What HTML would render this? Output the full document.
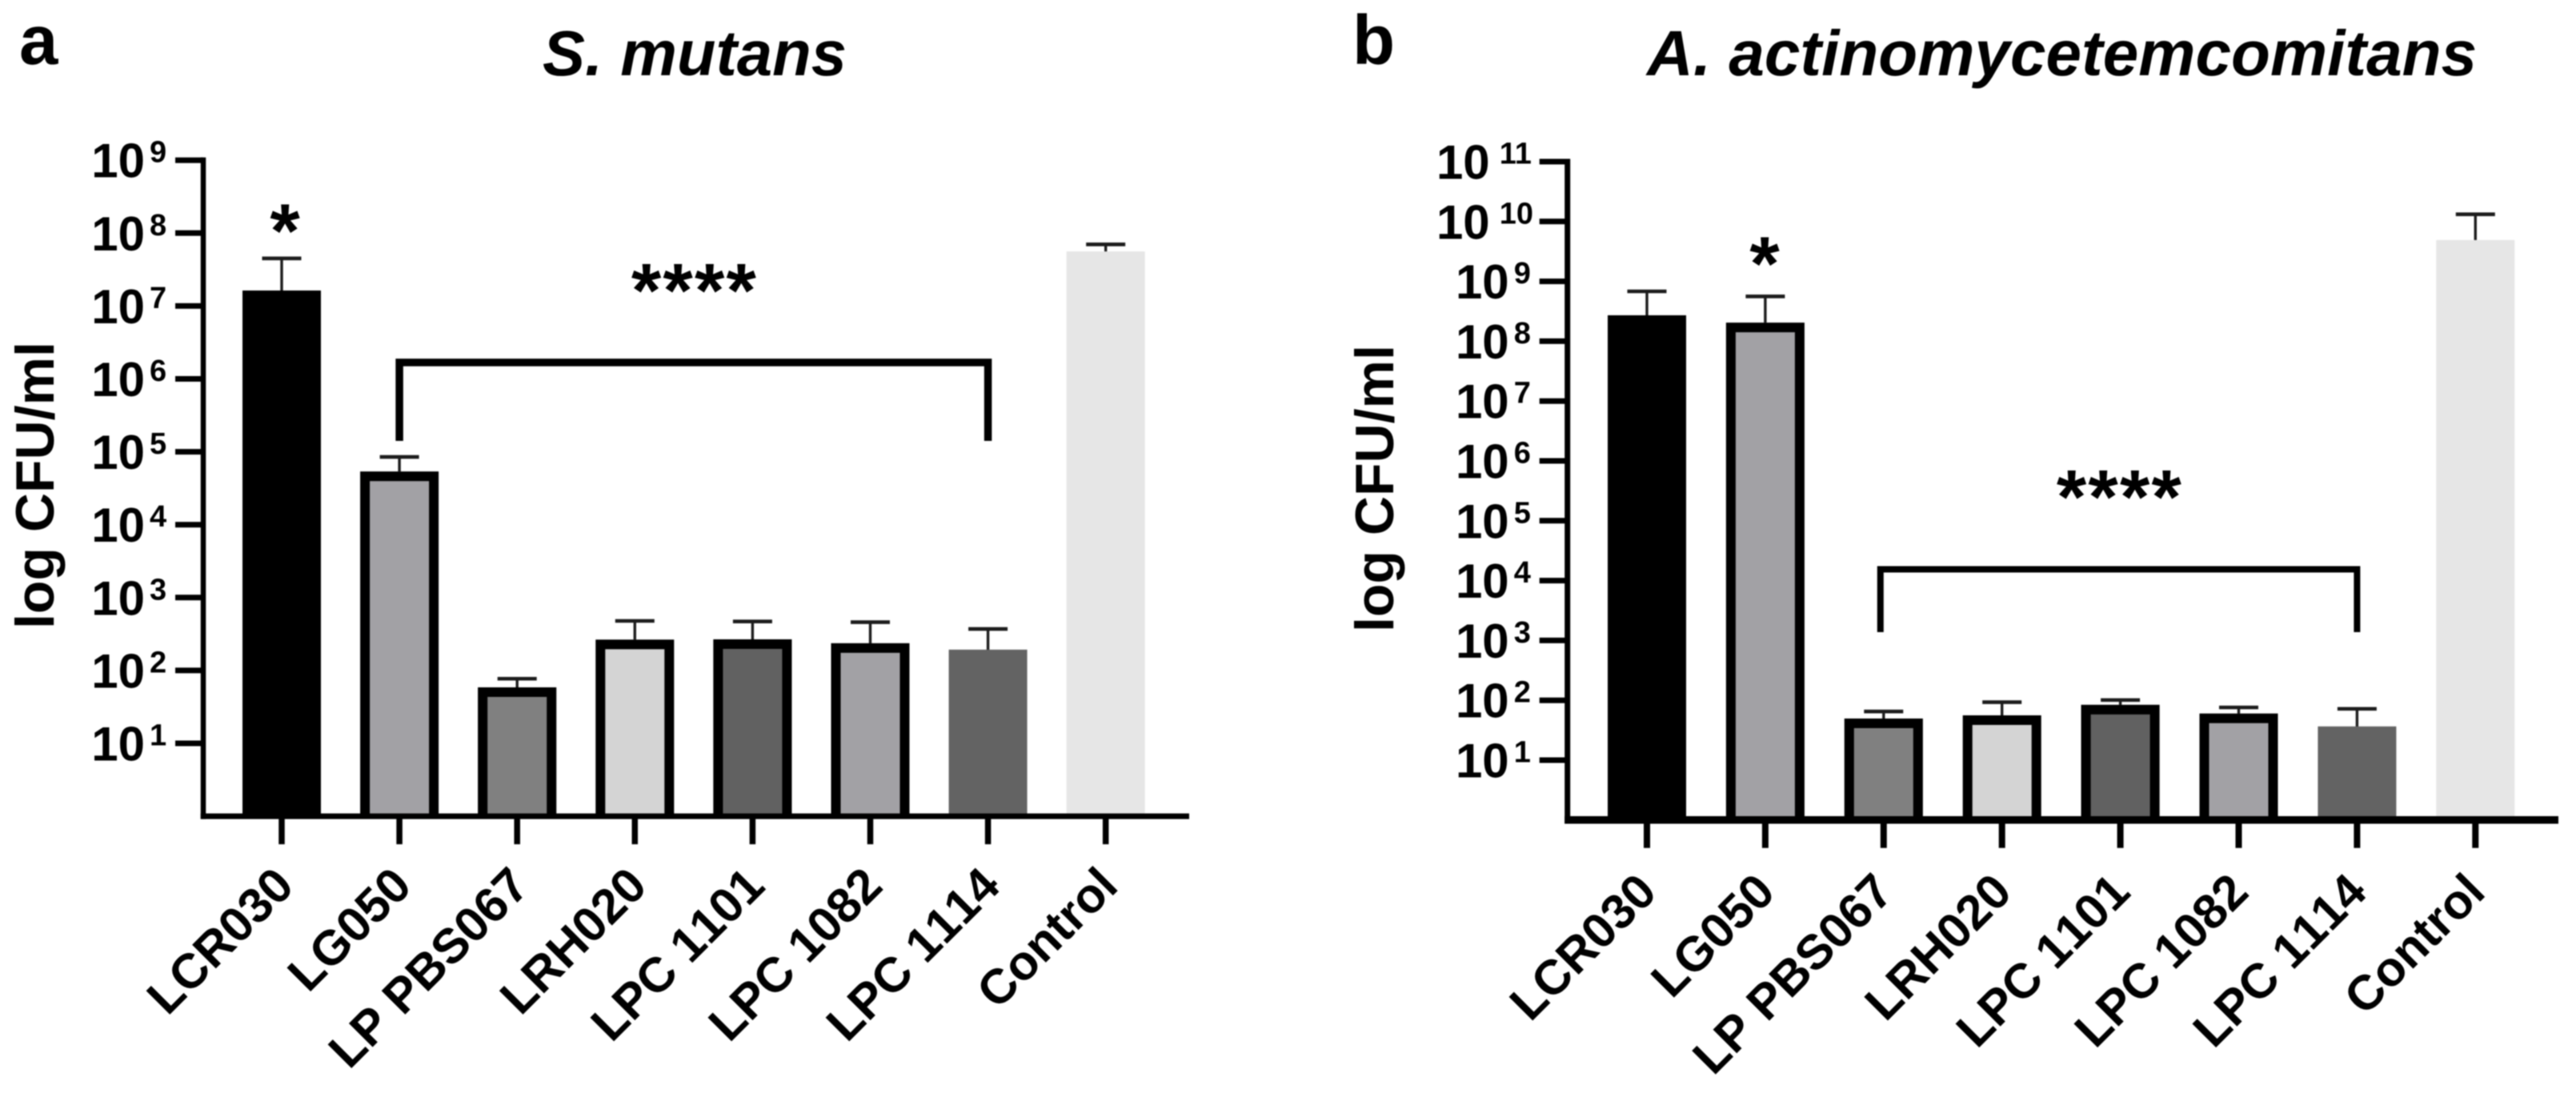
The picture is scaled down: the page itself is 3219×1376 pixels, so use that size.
<!DOCTYPE html>
<html lang="en">
<head>
<meta charset="utf-8">
<title>CFU counts for S. mutans and A. actinomycetemcomitans</title>
<style>
html,body{margin:0;padding:0;background:#fff;}
body{width:3219px;height:1376px;overflow:hidden;}
svg{display:block;filter:blur(0.7px);}
text{font-family:"Liberation Sans",Arial,sans-serif;font-weight:700;fill:#000;}
</style>
</head>
<body>
<svg id="figure" xmlns="http://www.w3.org/2000/svg" width="3219" height="1376" viewBox="0 0 3219 1376">
  <rect x="0" y="0" width="3219" height="1376" fill="#fff"/>
  <g id="panel-a">
    <text x="24" y="80" font-size="87">a</text>
    <text x="678" y="94" font-size="79.5" font-style="italic">S. mutans</text>
    <text transform="translate(67,786) rotate(-90)" font-size="68">log CFU/ml</text>
    <text x="356" y="321.6" font-size="96" text-anchor="middle">*</text>
    <text x="868" y="396" font-size="96" letter-spacing="2.2" text-anchor="middle">****</text>
  </g>
  <g id="panel-b">
    <text x="1690" y="80" font-size="87">b</text>
    <text x="2058" y="94" font-size="80.1" font-style="italic">A. actinomycetemcomitans</text>
    <text transform="translate(1741,790) rotate(-90)" font-size="68">log CFU/ml</text>
    <text x="2205" y="362.6" font-size="96" text-anchor="middle">*</text>
    <text x="2649" y="654" font-size="96" letter-spacing="2.2" text-anchor="middle">****</text>
  </g>
</svg>
<script>
// Chart data (CFU/ml)
const categories = ['LCR030', 'LG050', 'LP PBS067', 'LRH020', 'LPC 1101', 'LPC 1082', 'LPC 1114', 'Control'];
const aMeans = [1.63e7, 5.36e4, 58.6, 265, 267, 236, 193, 5.6e7];
const aUpper = [4.5e7, 8.5e4, 77, 478, 470, 459, 371, 7.0e7];
const bMeans = [2.71e8, 2.04e8, 49.6, 56, 84, 60, 36.6, 4.9e9];
const bUpper = [6.8e8, 5.6e8, 65, 93, 101, 76, 72, 1.32e10];
const aTickExponents = ['1', '2', '3', '4', '5', '6', '7', '8', '9'];
const bTickExponents = ['1', '2', '3', '4', '5', '6', '7', '8', '9', '10', '11'];
const barFills = ['#000000', '#a2a1a5', '#808080', '#d4d4d4', '#616161', '#a2a1a5', '#636363', '#e6e6e6'];
const barOutlined = [false, true, true, true, true, true, false, false];

const SVG_NS = 'http://www.w3.org/2000/svg';

function shape(parent, tag, attrs) {
  const el = document.createElementNS(SVG_NS, tag);
  for (const k in attrs) el.setAttribute(k, attrs[k]);
  parent.appendChild(el);
  return el;
}

function drawPanel(prefix, cfg, means, upper, exponents) {
  const root = document.getElementById('panel-' + prefix);
  const yScale = function (v) { return cfg.y0 - cfg.decade * Math.log10(v); };
  const xScale = function (i) { return cfg.x0 + cfg.step * i; };
  const baseY = yScale(1);

  categories.forEach(function (name, i) {
    const cx = xScale(i);
    const top = yScale(means[i]);
    const capY = yScale(upper[i]);

    const stem = shape(root, 'line', { x1: cx, x2: cx, y1: capY, y2: top + 2, stroke: '#1c1c1c', 'stroke-width': 3.4 });
    
    

    const cap = shape(root, 'line', { x1: cx - 24.5, x2: cx + 24.5, y1: capY, y2: capY, stroke: '#1c1c1c', 'stroke-width': 4.6 });
    
    

    const bar = shape(root, 'rect', { x: cx - 49, y: top, width: 98, height: baseY - top, fill: barFills[i] });
    
    

    if (barOutlined[i]) {
      const outline = shape(root, 'path', {
        d: 'M' + (cx - 43) + ' ' + baseY + ' V' + (top + 6) + ' H' + (cx + 43) + ' V' + baseY,
        fill: 'none',
        stroke: '#000',
        'stroke-width': 12
      });
      
      
    }

    const tick = shape(root, 'line', { x1: cx, x2: cx, y1: baseY, y2: baseY + cfg.xTickLen, stroke: '#000', 'stroke-width': cfg.xTickWidth });
    
    

    const ex = cx + cfg.labelDx;
    const ey = baseY + cfg.labelDy;
    const label = shape(root, 'text', { 'font-size': 61, 'text-anchor': 'end', style: 'font-kerning:none', transform: 'translate(' + ex + ',' + ey + ') rotate(-45)' });
    
    
    label.textContent = name;
  });

  const yTop = yScale(Math.pow(10, Number(exponents[exponents.length - 1])));
  const yAxis = shape(root, 'line', { x1: cfg.axisX, x2: cfg.axisX, y1: yTop - 3.5, y2: baseY + cfg.xAxisWidth / 2, stroke: '#000', 'stroke-width': cfg.yAxisWidth });
  
  

  const xAxis = shape(root, 'line', { x1: cfg.axisX - cfg.yAxisWidth / 2, x2: cfg.xEnd, y1: baseY, y2: baseY, stroke: '#000', 'stroke-width': cfg.xAxisWidth });
  
  

  exponents.forEach(function (exp) {
    const y = yScale(Math.pow(10, Number(exp)));
    const t = shape(root, 'line', { x1: cfg.axisX - 35, x2: cfg.axisX, y1: y, y2: y, stroke: '#000', 'stroke-width': 7 });
    
    

    const wide = exp.length > 1;
    const ten = shape(root, 'text', { x: cfg.axisX - (wide ? 97 : 73), y: y + 21.5, 'font-size': 60, 'text-anchor': 'end' });
    
    
    ten.textContent = '10';

    const sup = shape(root, 'text', { x: cfg.axisX - (wide ? 85 : 67), y: y + 2.5, 'font-size': 38 });
    
    
    sup.textContent = exp;
  });

  const br = cfg.bracket;
  const bracket = shape(root, 'path', {
    d: 'M' + (xScale(br.from) + br.fromDx) + ' ' + br.bottom + ' V' + br.y + ' H' + xScale(br.to) + ' V' + br.bottom,
    fill: 'none',
    stroke: '#000',
    'stroke-width': br.width,
    'stroke-linejoin': 'miter'
  });
  
  
}

drawPanel('a', {
  x0: 352, step: 147.1, y0: 1020.1, decade: 91.1,
  axisX: 254, xEnd: 1486, yAxisWidth: 6.5, xAxisWidth: 7,
  xTickLen: 35, xTickWidth: 7.5, labelDx: 18, labelDy: 90,
  bracket: { from: 1, to: 6, fromDx: 0, y: 453, bottom: 551, width: 9.5 }
}, aMeans, aUpper, aTickExponents);

drawPanel('b', {
  x0: 2058, step: 147.9, y0: 1024.8, decade: 74.8,
  axisX: 1958.7, xEnd: 3197, yAxisWidth: 7, xAxisWidth: 9.5,
  xTickLen: 35, xTickWidth: 8, labelDx: 15, labelDy: 93,
  bracket: { from: 2, to: 6, fromDx: -4, y: 711.5, bottom: 790, width: 8 }
}, bMeans, bUpper, bTickExponents);
</script>
</body>
</html>
